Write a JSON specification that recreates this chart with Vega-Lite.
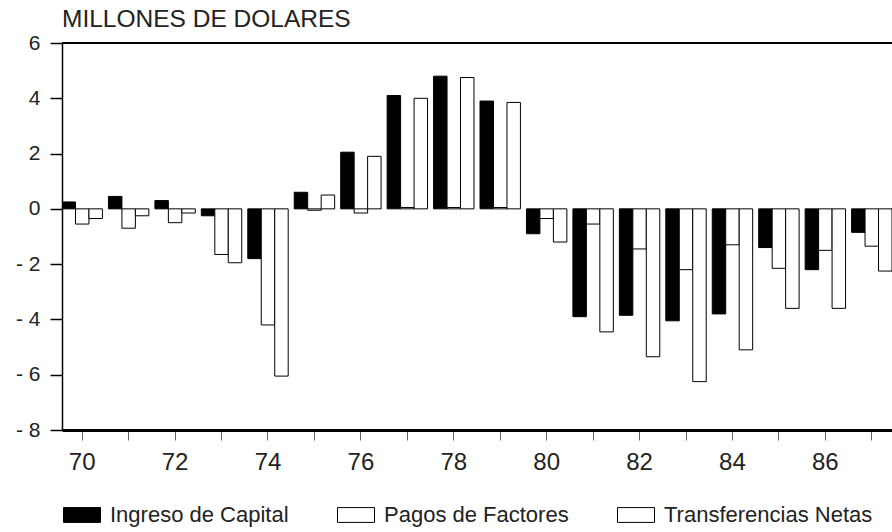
{
  "$schema": "https://vega.github.io/schema/vega-lite/v6.json",
  "width": 830,
  "height": 387,
  "autosize": {"type": "none"},
  "padding": {"left": 62, "top": 43, "right": 0, "bottom": 102},
  "background": "white",
  "config": {"view": {"stroke": null}, "font": "Liberation Sans"},
  "title": {"text": "MILLONES DE DOLARES", "anchor": "start", "frame": "group", "offset": 0, "fontSize": 24.5, "fontWeight": "normal", "color": "#222", "font": "Liberation Sans"},
  "data": {"values": [
    {"year": 70, "serie": "Ingreso de Capital", "value": 0.25},
    {"year": 70, "serie": "Pagos de Factores", "value": -0.55},
    {"year": 70, "serie": "Transferencias Netas", "value": -0.35},
    {"year": 71, "serie": "Ingreso de Capital", "value": 0.45},
    {"year": 71, "serie": "Pagos de Factores", "value": -0.7},
    {"year": 71, "serie": "Transferencias Netas", "value": -0.25},
    {"year": 72, "serie": "Ingreso de Capital", "value": 0.3},
    {"year": 72, "serie": "Pagos de Factores", "value": -0.5},
    {"year": 72, "serie": "Transferencias Netas", "value": -0.15},
    {"year": 73, "serie": "Ingreso de Capital", "value": -0.25},
    {"year": 73, "serie": "Pagos de Factores", "value": -1.65},
    {"year": 73, "serie": "Transferencias Netas", "value": -1.95},
    {"year": 74, "serie": "Ingreso de Capital", "value": -1.8},
    {"year": 74, "serie": "Pagos de Factores", "value": -4.2},
    {"year": 74, "serie": "Transferencias Netas", "value": -6.05},
    {"year": 75, "serie": "Ingreso de Capital", "value": 0.6},
    {"year": 75, "serie": "Pagos de Factores", "value": -0.05},
    {"year": 75, "serie": "Transferencias Netas", "value": 0.5},
    {"year": 76, "serie": "Ingreso de Capital", "value": 2.05},
    {"year": 76, "serie": "Pagos de Factores", "value": -0.15},
    {"year": 76, "serie": "Transferencias Netas", "value": 1.9},
    {"year": 77, "serie": "Ingreso de Capital", "value": 4.1},
    {"year": 77, "serie": "Pagos de Factores", "value": 0.05},
    {"year": 77, "serie": "Transferencias Netas", "value": 4.0},
    {"year": 78, "serie": "Ingreso de Capital", "value": 4.8},
    {"year": 78, "serie": "Pagos de Factores", "value": 0.05},
    {"year": 78, "serie": "Transferencias Netas", "value": 4.75},
    {"year": 79, "serie": "Ingreso de Capital", "value": 3.9},
    {"year": 79, "serie": "Pagos de Factores", "value": 0.05},
    {"year": 79, "serie": "Transferencias Netas", "value": 3.85},
    {"year": 80, "serie": "Ingreso de Capital", "value": -0.9},
    {"year": 80, "serie": "Pagos de Factores", "value": -0.35},
    {"year": 80, "serie": "Transferencias Netas", "value": -1.2},
    {"year": 81, "serie": "Ingreso de Capital", "value": -3.9},
    {"year": 81, "serie": "Pagos de Factores", "value": -0.55},
    {"year": 81, "serie": "Transferencias Netas", "value": -4.45},
    {"year": 82, "serie": "Ingreso de Capital", "value": -3.85},
    {"year": 82, "serie": "Pagos de Factores", "value": -1.45},
    {"year": 82, "serie": "Transferencias Netas", "value": -5.35},
    {"year": 83, "serie": "Ingreso de Capital", "value": -4.05},
    {"year": 83, "serie": "Pagos de Factores", "value": -2.2},
    {"year": 83, "serie": "Transferencias Netas", "value": -6.25},
    {"year": 84, "serie": "Ingreso de Capital", "value": -3.8},
    {"year": 84, "serie": "Pagos de Factores", "value": -1.3},
    {"year": 84, "serie": "Transferencias Netas", "value": -5.1},
    {"year": 85, "serie": "Ingreso de Capital", "value": -1.4},
    {"year": 85, "serie": "Pagos de Factores", "value": -2.15},
    {"year": 85, "serie": "Transferencias Netas", "value": -3.6},
    {"year": 86, "serie": "Ingreso de Capital", "value": -2.2},
    {"year": 86, "serie": "Pagos de Factores", "value": -1.5},
    {"year": 86, "serie": "Transferencias Netas", "value": -3.6},
    {"year": 87, "serie": "Ingreso de Capital", "value": -0.85},
    {"year": 87, "serie": "Pagos de Factores", "value": -1.35},
    {"year": 87, "serie": "Transferencias Netas", "value": -2.25}
  ]},
  "layer": [
    {
      "mark": {"type": "bar", "stroke": "black", "strokeWidth": 1, "clip": true},
      "encoding": {
        "x": {
          "field": "year", "type": "ordinal",
          "scale": {"paddingInner": 0.13, "paddingOuter": 0},
          "axis": {
            "title": null, "labelAngle": 0, "bandPosition": 0.5,
            "labelExpr": "datum.value % 2 == 0 ? '' + datum.value : ''",
            "tickSize": 10, "tickColor": "#666", "tickWidth": 1,
            "domainColor": "black", "domainWidth": 3,
            "labelFontSize": 24, "labelPadding": 10, "labelColor": "#222",
            "labelFont": "Liberation Sans", "grid": false
          }
        },
        "xOffset": {
          "field": "serie", "type": "nominal",
          "sort": ["Ingreso de Capital", "Pagos de Factores", "Transferencias Netas"],
          "scale": {"paddingInner": 0, "paddingOuter": 0}
        },
        "y": {
          "field": "value", "type": "quantitative",
          "scale": {"domain": [-8, 6], "nice": false},
          "axis": {
            "title": null, "values": [-8, -6, -4, -2, 0, 2, 4, 6],
            "labelExpr": "datum.value < 0 ? '- ' + abs(datum.value) : '' + datum.value",
            "tickSize": 12, "tickColor": "black", "tickWidth": 1.5,
            "domainColor": "black", "domainWidth": 1.5,
            "labelFontSize": 21, "labelPadding": 10, "labelColor": "#222",
            "labelFont": "Liberation Sans", "grid": false
          }
        },
        "color": {
          "field": "serie", "type": "nominal",
          "scale": {
            "domain": ["Ingreso de Capital", "Pagos de Factores", "Transferencias Netas"],
            "range": ["#000000", "#ffffff", "#ffffff"]
          },
          "legend": {
            "title": null, "orient": "none", "direction": "horizontal",
            "legendX": 1, "legendY": 453,
            "symbolType": "M-1,-0.4H1V0.4H-1Z", "symbolSize": 1369,
            "symbolStrokeColor": "black", "symbolStrokeWidth": 1, "symbolOpacity": 1,
            "labelFontSize": 22, "labelFont": "Liberation Sans", "labelColor": "#222",
            "labelOffset": 9, "labelLimit": 400, "columnPadding": 46
          }
        }
      }
    },
    {
      "mark": {"type": "rule", "color": "black", "strokeWidth": 2},
      "encoding": {"y": {"datum": 6}}
    }
  ]
}
